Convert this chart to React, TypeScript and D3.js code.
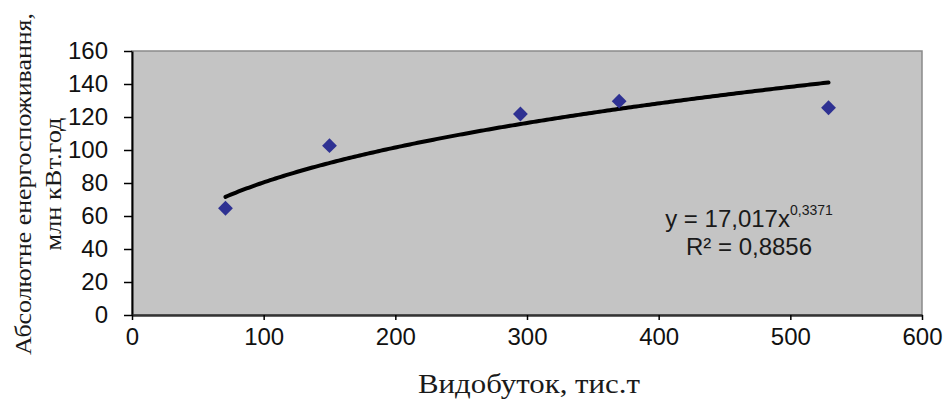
import { useEffect, useRef } from "react";
import * as d3 from "d3";

// Видобуток, тис.т
const vydobutok = [71, 150, 295, 370, 529];
// Абсолютне енергоспоживання, млн кВт.год
const spozhyvannia = [64.7, 102.6, 121.8, 129.6, 125.6];

const xTicks = [0, 100, 200, 300, 400, 500, 600];
const yTicks = [0, 20, 40, 60, 80, 100, 120, 140, 160];

// степенева лінія тренду y = a * x^b
const trendA = 17.017;
const trendB = 0.3371;

const W = 944;
const H = 410;

const App = () => {
  const svgRef = useRef<SVGSVGElement | null>(null);

  useEffect(() => {
    if (!svgRef.current) return;
    const svg = d3.select(svgRef.current);
    svg.selectAll("*").remove();

    const margin = { top: 51, right: 22, bottom: 95, left: 132 };
    const width = W - margin.left - margin.right;
    const height = H - margin.top - margin.bottom;

    const g = svg.append("g").attr("transform", `translate(${margin.left},${margin.top})`);

    const x = d3.scaleLinear().domain([0, 600]).range([0, width]);
    const y = d3.scaleLinear().domain([0, 160]).range([height, 0]);

    // фон області побудови
    g.append("rect")
      .attr("width", width)
      .attr("height", height)
      .attr("fill", "#c4c4c4")
      .attr("stroke", "#8a8a8a")
      .attr("stroke-width", 1.5);

    const sans = "Arial, 'Liberation Sans', sans-serif";
    const serif = "'Times New Roman', 'Liberation Serif', serif";

    // Вісь Y
    const yAxis = g.append("g")
      .call(d3.axisLeft(y).tickValues(yTicks).tickSize(8).tickSizeOuter(0).tickPadding(16));
    yAxis.select(".domain").attr("stroke", "#000").attr("stroke-width", 2);
    yAxis.selectAll("line").attr("stroke", "#000").attr("stroke-width", 1.5);
    yAxis.selectAll("text")
      .style("font-family", sans)
      .style("font-size", "24px")
      .attr("fill", "#111");

    // Вісь X
    const xAxis = g.append("g")
      .attr("transform", `translate(0,${height})`)
      .call(d3.axisBottom(x).tickValues(xTicks).tickSize(5).tickSizeOuter(0).tickPadding(8));
    xAxis.select(".domain").attr("stroke", "#333").attr("stroke-width", 2.5);
    xAxis.selectAll("line").attr("stroke", "#000").attr("stroke-width", 1.5);
    xAxis.selectAll("text")
      .style("font-family", sans)
      .style("font-size", "24px")
      .attr("fill", "#111");

    // Лінія тренду
    const xMin = d3.min(vydobutok) as number;
    const xMax = d3.max(vydobutok) as number;
    const trendX = d3.range(xMin, xMax + 0.5, 2);
    const line = d3.line<number>()
      .x((d) => x(d))
      .y((d) => y(trendA * Math.pow(d, trendB)))
      .curve(d3.curveLinear);
    g.append("path")
      .datum(trendX)
      .attr("d", line)
      .attr("fill", "none")
      .attr("stroke", "#000")
      .attr("stroke-width", 4)
      .attr("stroke-linecap", "round");

    // Точки (ромби)
    const diamond = d3.symbol().type(d3.symbolDiamond2).size(140);
    g.selectAll(".pt")
      .data(vydobutok.map((v, i) => [v, spozhyvannia[i]]))
      .enter()
      .append("path")
      .attr("class", "pt")
      .attr("d", diamond)
      .attr("transform", (d) => `translate(${x(d[0])},${y(d[1])})`)
      .attr("fill", "#2e3192");

    // Рівняння
    const eq = g.append("text")
      .attr("x", 749 - margin.left)
      .attr("y", 227 - margin.top)
      .attr("text-anchor", "middle")
      .style("font-family", sans)
      .style("font-size", "24px")
      .attr("fill", "#1a1a1a");
    eq.append("tspan").text(`y = ${String(trendA).replace(".", ",")}x`);
    eq.append("tspan")
      .attr("dy", -12)
      .style("font-size", "14px")
      .text(String(trendB).replace(".", ","));

    g.append("text")
      .attr("x", 749 - margin.left)
      .attr("y", 255 - margin.top)
      .attr("text-anchor", "middle")
      .style("font-family", sans)
      .style("font-size", "24px")
      .attr("fill", "#1a1a1a")
      .text("R² = 0,8856");

    // Підписи осей
    svg.append("text")
      .attr("x", 529)
      .attr("y", 393)
      .attr("text-anchor", "middle")
      .attr("textLength", 222)
      .attr("lengthAdjust", "spacingAndGlyphs")
      .style("font-family", serif)
      .style("font-size", "27px")
      .attr("fill", "#1a1a1a")
      .text("Видобуток, тис.т");

    const yLabel = svg.append("g").attr("transform", "translate(0,184) rotate(-90)");
    yLabel.append("text")
      .attr("x", 0)
      .attr("y", 31)
      .attr("text-anchor", "middle")
      .attr("textLength", 342)
      .attr("lengthAdjust", "spacingAndGlyphs")
      .style("font-family", serif)
      .style("font-size", "24px")
      .attr("fill", "#1a1a1a")
      .text("Абсолютне енергоспоживання,");
    yLabel.append("text")
      .attr("x", 0)
      .attr("y", 61)
      .attr("text-anchor", "middle")
      .attr("textLength", 133)
      .attr("lengthAdjust", "spacingAndGlyphs")
      .style("font-family", serif)
      .style("font-size", "24px")
      .attr("fill", "#1a1a1a")
      .text("млн кВт.год");
  }, []);

  return (
    <div style={{ position: "fixed", left: 0, top: 0 }}>
      <svg ref={svgRef} width={W} height={H} style={{ display: "block", background: "#fff" }} />
    </div>
  );
};

export default App;
